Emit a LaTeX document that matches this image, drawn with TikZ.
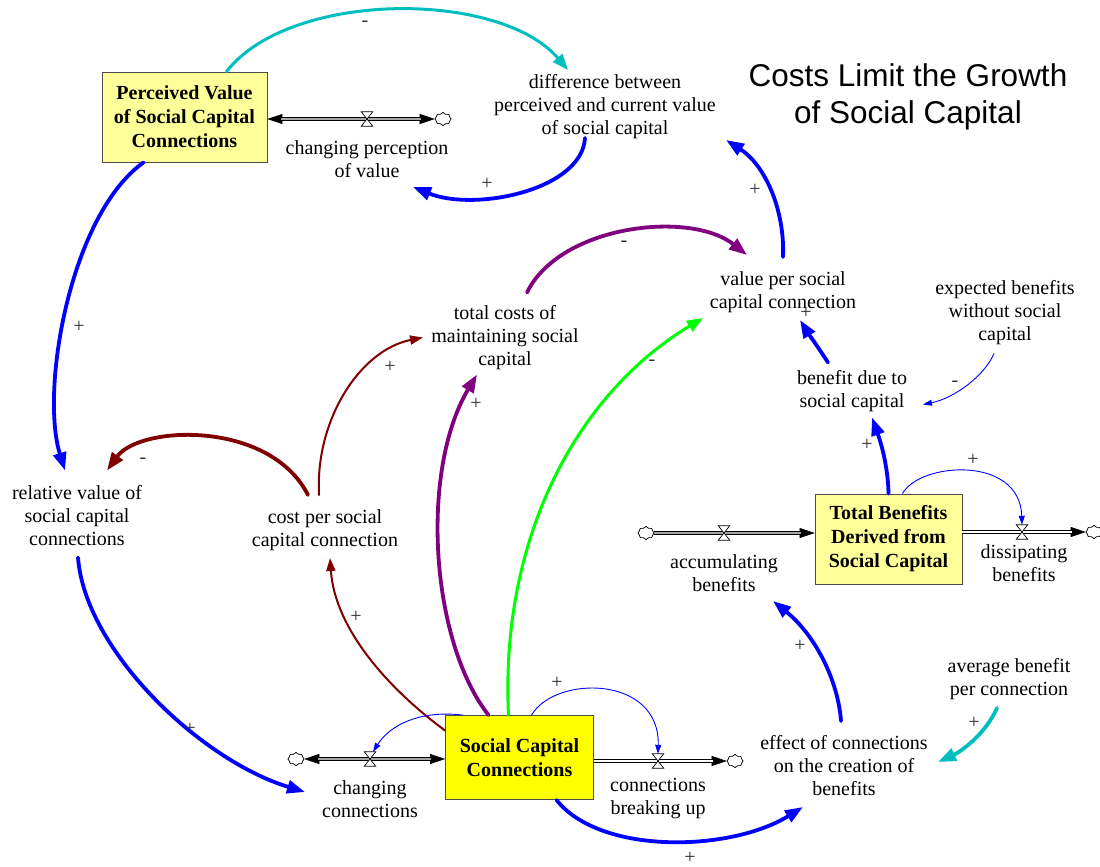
\documentclass[tikz,border=0pt]{standalone}
\usepackage{fontspec}
\setmainfont{Liberation Serif}
\newfontfamily\titlefont{Liberation Sans}
\usetikzlibrary{arrows.meta,calc,shapes.symbols}
\definecolor{lblue}{RGB}{0,0,255}
\definecolor{lcyan}{RGB}{0,190,190}
\definecolor{lpurple}{RGB}{128,0,128}
\definecolor{lgreen}{RGB}{0,255,0}
\definecolor{lred}{RGB}{128,0,0}
\definecolor{stockpale}{RGB}{255,255,153}
\definecolor{stockbright}{RGB}{255,255,0}
\definecolor{signgray}{RGB}{45,45,45}
\begin{document}
\begin{tikzpicture}[x=1pt,y=-1pt,
  lbl/.style={align=center, font=\fontsize{20}{23}\selectfont, inner sep=1pt},
  stockbox/.style={draw=black!70, line width=0.9pt, align=center,
    font=\fontsize{20}{24}\selectfont\bfseries, inner sep=0pt},
  sgn/.style={font=\fontsize{20}{20}\selectfont, text=signgray, inner sep=0pt},
  linkA/.style={line width=3.8pt, line cap=round, -{Triangle[length=18pt,width=13pt]}},
  linkB/.style={line width=3pt, line cap=round, -{Triangle[length=16pt,width=12pt]}},
  linkC/.style={line width=2pt, line cap=round, -{Triangle[length=13pt,width=9pt]}},
  linkD/.style={line width=0.9pt, -{Triangle[length=9pt,width=6pt]}},
  cloudn/.style={cloud, cloud puffs=8, cloud puff arc=140, draw=black, line width=0.6pt,
    fill=white, minimum width=16pt, minimum height=13pt, inner sep=0pt, aspect=1.3},
  valve/.style={minimum width=11pt, minimum height=14pt, inner sep=0pt},
  hglass/.style={draw=black, line width=0.7pt, fill=white},
  tipl/.style={line width=0.5pt, draw=black},
  pipe/.style={draw=black, line width=0.9pt, double=white, double distance=2.4pt},
  pipeg/.style={draw=black, line width=0.9pt, double=black!35, double distance=2.4pt}
]
\useasboundingbox (0,0) rectangle (1100,867);
\fill[white] (0,0) rectangle (1100,867);

% stocks
\node[stockbox, fill=stockpale, minimum width=165pt, minimum height=90pt] (pv) at (184.5,117)
  {Perceived Value\\of Social Capital\\Connections};
\node[stockbox, fill=stockpale, minimum width=147pt, minimum height=90pt] (tb) at (888.5,539)
  {Total Benefits\\Derived from\\Social Capital};
\node[stockbox, fill=stockbright, minimum width=148pt, minimum height=84pt] (scc) at (519.5,757.5)
  {Social Capital\\Connections};

% labels
\node[lbl] (cpv) at (367,159) {changing perception\\of value};
\node[lbl] (diff) at (605,107) {difference between\\perceived and current value\\of social capital};
\node[align=center, font=\fontsize{31.5}{37}\selectfont\titlefont] (title) at (908,96.5)
  {Costs Limit the Growth\\of Social Capital};
\node[lbl] (vpc) at (783,292) {value per social\\capital connection};
\node[lbl] (ebw) at (1005,312.5) {expected benefits\\without social\\capital};
\node[lbl] (tcm) at (505,337.5) {total costs of\\maintaining social\\capital};
\node[lbl] (bdsc) at (852,391.5) {benefit due to\\social capital};
\node[lbl] (rvsc) at (77,515.5) {relative value of\\social capital\\connections};
\node[lbl] (cpsc) at (325,530) {cost per social\\capital connection};
\node[lbl] (accb) at (724,573) {accumulating\\benefits};
\node[lbl] (dissb) at (1024,563) {dissipating\\benefits};
\node[lbl] (abpc) at (1009,679) {average benefit\\per connection};
\node[lbl] (effect) at (844,766) {effect of connections\\on the creation of\\benefits};
\node[lbl] (chc) at (370,799) {changing\\connections};
\node[lbl] (cbu) at (658,799) {connections\\breaking up};

% valves and clouds (positions)
\node[valve] (v1) at (367,119) {};
\node[valve] (v2) at (370,759) {};
\node[valve] (v3) at (658,761) {};
\node[valve] (v4) at (724,533) {};
\node[valve] (v5) at (1022,532) {};

\node[cloudn] (c1) at (443,119) {};
\node[cloudn] (c2) at (296,759) {};
\node[cloudn] (c3) at (735,761) {};
\node[cloudn] (c4) at (646,533) {};
\node[cloudn] (c5) at (1094,532) {};

% pipes
\draw[tipl, {Triangle[length=15pt,width=10pt]}-{Triangle[length=15pt,width=10pt]}] (pv.east |- v1) -- (c1);
\draw[pipeg, shorten <=14pt, shorten >=14pt] (pv.east |- v1) -- (c1);
\draw[tipl, {Triangle[length=15pt,width=10pt]}-{Triangle[length=15pt,width=10pt]}] (c2) -- (scc.west |- v2);
\draw[pipeg, shorten <=14pt, shorten >=14pt] (c2) -- (scc.west |- v2);
\draw[tipl, -{Triangle[length=15pt,width=10pt]}] (scc.east |- v3) -- (c3);
\draw[pipe, shorten >=14pt] (scc.east |- v3) -- (c3);
\draw[tipl, -{Triangle[length=15pt,width=10pt]}] (c4) -- (tb.west |- v4);
\draw[pipeg, shorten >=14pt] (c4) -- (tb.west |- v4);
\draw[tipl, -{Triangle[length=15pt,width=10pt]}] (tb.east |- v5) -- (c5);
\draw[pipe, shorten >=14pt] (tb.east |- v5) -- (c5);

\foreach \v in {v1,v2,v3,v4,v5}{
  \draw[hglass] (\v.north west) -- (\v.north east) -- (\v.south west) -- (\v.south east) -- cycle;
}
\node[cloudn] at (c1) {};
\node[cloudn] at (c2) {};
\node[cloudn] at (c3) {};
\node[cloudn] at (c4) {};
\node[cloudn] at (c5) {};

% connectors
\draw[linkB, lcyan] ($(pv.north)+(42,0)$) .. controls (290,-10) and (500,-10) .. ($(diff)+(-37,-37)$);
\draw[linkA, lblue] ($(diff)+(-20,31)$) .. controls (582,190) and (475,212) .. ($(cpv)+(46,28)$);
\draw[linkA, lblue] ($(vpc)+(0,-35)$) .. controls (785,210) and (765,165) .. ($(diff)+(121,33)$);
\draw[linkA, lpurple] ($(tcm)+(22,-45)$) .. controls (560,225) and (690,210) .. ($(vpc)+(-36,-37)$);
\draw[linkA, lblue] ($(bdsc)+(-24,-29)$) .. controls (818,347) and (808,333) .. ($(vpc)+(17,28)$);
\draw[linkD, lblue] ($(ebw)+(-11,41)$) .. controls (985,375) and (955,398) .. ($(bdsc)+(71,13)$);
\draw[linkA, lblue] (tb.north) .. controls (888,465) and (880,440) .. ($(bdsc)+(20,26)$);
\draw[linkD, lblue] ($(tb.north)+(14,0)$) .. controls (920,462) and (1020,455) .. (v5.north);
\draw[linkA, lblue] ($(pv.south)+(-41,0)$) .. controls (70,215) and (40,390) .. ($(rvsc)+(-12,-45)$);
\draw[linkA, lred] ($(cpsc)+(-17,-35)$) .. controls (270,420) and (140,425) .. ($(rvsc)+(30,-45)$);
\draw[linkC, lred] ($(cpsc)+(-6,-35)$) .. controls (315,420) and (360,350) .. ($(tcm)+(-82,0)$);
\draw[linkA, lpurple] ($(scc.north)+(-31,0)$) .. controls (430,640) and (420,470) .. ($(tcm)+(-28,37)$);
\draw[linkB, lgreen] ($(scc.north)+(-11,0)$) .. controls (500,540) and (575,395) .. ($(vpc)+(-80,26)$);
\draw[linkC, lred] ($(scc.west)+(0,-27)$) .. controls (390,690) and (335,630) .. ($(cpsc)+(5,28)$);
\draw[linkA, lblue] ($(rvsc)+(1,42)$) .. controls (85,650) and (200,760) .. ($(chc)+(-65,-7)$);
\draw[linkD, lblue] ($(scc.north)+(-57,0)$) .. controls (420,710) and (390,725) .. ($(v2.north)+(3,0)$);
\draw[linkD, lblue] ($(scc.north)+(12,0)$) .. controls (555,675) and (660,675) .. (v3.north);
\draw[linkA, lblue] ($(scc.south)+(37,0)$) .. controls (600,855) and (730,852) .. ($(effect)+(-41,41)$);
\draw[linkA, lcyan] ($(abpc)+(-12,29)$) .. controls (985,735) and (960,752) .. ($(effect)+(94,-4)$);
\draw[linkA, lblue] ($(effect)+(-3,-45)$) .. controls (838,680) and (815,635) .. ($(accb)+(49,28)$);

% polarity signs
\node[sgn] (s1) at (365,24) {-};
\node[sgn] (s2) at (487,184) {+};
\node[sgn] (s3) at (755,190) {+};
\node[sgn] (s4) at (624,244) {-};
\node[sgn] (s5) at (806,313) {+};
\node[sgn] (s6) at (955,384) {-};
\node[sgn] (s7) at (867,445) {+};
\node[sgn] (s8) at (973,460) {+};
\node[sgn] (s9) at (79,327) {+};
\node[sgn] (s10) at (143,461) {-};
\node[sgn] (s11) at (390,367) {+};
\node[sgn] (s12) at (476,404) {+};
\node[sgn] (s13) at (652,363) {-};
\node[sgn] (s14) at (356,617) {+};
\node[sgn] (s15) at (190,729) {+};
\node[sgn] (s17) at (557,683) {+};
\node[sgn] (s18) at (690,858) {+};
\node[sgn] (s19) at (974,723) {+};
\node[sgn] (s20) at (800,646) {+};
\end{tikzpicture}
\end{document}
